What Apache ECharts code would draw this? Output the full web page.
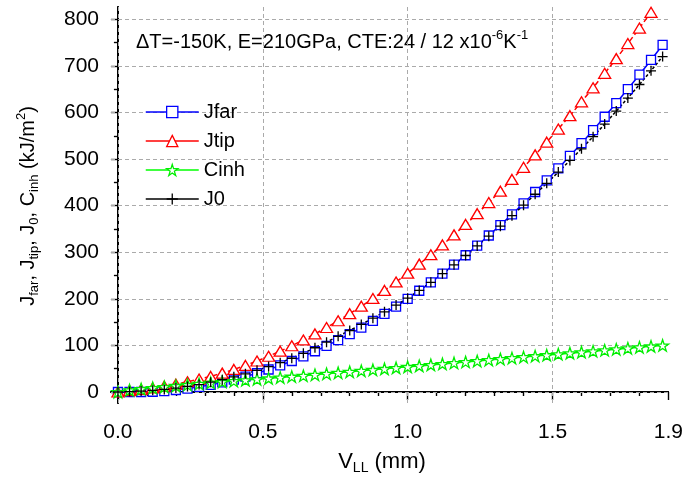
<!DOCTYPE html>
<html><head><meta charset="utf-8">
<script src="https://cdn.jsdelivr.net/npm/echarts@6/dist/echarts.min.js"></script>
<style>html,body{margin:0;padding:0;background:#fff}#c{width:686px;height:477px}</style>
</head><body><div id="c"></div>
<script>
const xValues = [0,0.04,0.08,0.12,0.16,0.2,0.24,0.28,0.32,0.36,0.4,0.44,0.48,0.52,0.56,0.6,0.64,0.68,0.72,0.76,0.8,0.84,0.88,0.92,0.96,1.0,1.04,1.08,1.12,1.16,1.2,1.24,1.28,1.32,1.36,1.4,1.44,1.48,1.52,1.56,1.6,1.64,1.68,1.72,1.76,1.8,1.84,1.88];
const jfar = [0,0,0,0.5,2,4.3,7.3,11,15.5,20.6,26.5,33,40.3,48.3,57,66.5,76.6,87.5,99,111.3,124.3,138,152.5,167.6,183.4,200,217.3,235.3,254,273.4,293.5,314.4,335.9,358.2,381.2,405,429.3,454.4,480.2,506.8,534.1,562.1,590.8,620.2,650.3,681.1,712.7,745];
const jtip = [0,3,5.5,8.8,12.5,16.8,22,27.8,33.5,40.5,48.5,57,66.6,76.8,87.7,99.3,111.7,124.7,138.5,153,168.2,184.2,200.8,218.1,236.2,255,274.5,294.7,315.7,337.3,359.7,382.8,406.6,431.1,456.3,482.3,509,536.3,564.4,593.2,622.8,653,684,715.6,747.9,781.1,815];
const cinh = [0,4,6.5,8.8,11,13.2,15.4,17.6,19.8,21.7,23.6,25.5,27.4,29.3,31.2,33.1,35,37,39.2,41.3,43.4,45.5,47.6,49.7,51.8,54,56,58.2,60.3,62.4,64.5,66.6,68.7,70.8,72.9,75,77.1,79.2,81.3,83.4,85.5,87.6,89.7,91.8,93.9,96,98,100];
const j0 = [0,1,2,3.5,5.5,8.5,12,16,21,26.5,32.5,39,46.5,54.5,63,72.5,83,95,107,119.5,132,145,158.5,172,186.5,201.5,218,235.5,254,273,293,313.5,334.5,356,378.5,401,424.5,448,472,497,522,548,575,603,631,660,689.5,720];
const seriesNames = ['Jfar','Jtip','Cinh','J0'];
const xTickValues = [0,0.5,1.0,1.5,1.9];
const xTickLabels = ['0.0','0.5','1.0','1.5','1.9'];
const xGridValues = [0,0.5,1.0,1.5];
const xMinorValues = [0.1,0.2,0.3,0.4,0.6,0.7,0.8,0.9,1.1,1.2,1.3,1.4,1.6,1.7,1.8];
const yTickValues = [0,100,200,300,400,500,600,700,800];
const yTickLabels = ['0','100','200','300','400','500','600','700','800'];
const yMinorValues = [50,150,250,350,450,550,650,750];

const FONT = "'Liberation Sans', Arial, sans-serif";
const pairs = (ys) => ys.map((v, i) => [xValues[i], v]);
const STAR = 'path://M10,0L12.245,6.91L19.511,6.91L13.633,11.18L15.878,18.09L10,13.82L4.122,18.09L6.367,11.18L0.489,6.91L7.755,6.91Z';
const PLUS = 'path://M5,0L5,10M0,5L10,5';

const xMin = -0.024, xMax = 1.9, yMin = -23.6, yMax = 826.4;
const axLine = {show: true, lineStyle: {color: '#000', width: 1.5}};
function xAx(pos, vals, len, inside, labels) {
  return {type: 'value', position: pos, min: xMin, max: xMax,
    axisLine: axLine,
    axisTick: {show: true, customValues: vals, length: len, inside: inside, lineStyle: {color: '#000', width: 1.2}},
    axisLabel: labels ? {show: true, customValues: vals, margin: 19, fontSize: 21, fontFamily: FONT, color: '#000',
      formatter: (v) => { const k = xTickValues.findIndex(t => Math.abs(t - v) < 1e-6); return k >= 0 ? xTickLabels[k] : ''; }} : {show: false},
    splitLine: {show: false}};
}
function yAx(pos, vals, len, inside, labels) {
  return {type: 'value', position: pos, min: yMin, max: yMax,
    axisLine: axLine,
    axisTick: {show: true, customValues: vals, length: len, inside: inside, lineStyle: {color: '#000', width: 1.2}},
    axisLabel: labels ? {show: true, customValues: vals, margin: 12, fontSize: 21, fontFamily: FONT, color: '#000',
      formatter: (v) => { const k = yTickValues.findIndex(t => Math.abs(t - v) < 1e-6); return k >= 0 ? yTickLabels[k] : ''; }} : {show: false},
    splitLine: {show: false}};
}

const gridLines = xGridValues.map(v => ({xAxis: v})).concat(yTickValues.map(v => ({yAxis: v})));

const chart = echarts.init(document.getElementById('c'), null, {renderer: 'canvas'});
chart.setOption({
  backgroundColor: '#fff',
  animation: false,
  grid: {left: 111, right: 17, top: 7, bottom: 74, containLabel: false},
  xAxis: [
    xAx('bottom', xTickValues, 8, false, true),
    xAx('bottom', xMinorValues, 4, false, false),
    xAx('top', xTickValues, 8, true, false),
    xAx('top', xMinorValues, 4, true, false)
  ],
  yAxis: [
    yAx('left', yTickValues, 7, false, true),
    yAx('left', yMinorValues, 4, false, false),
    yAx('right', yTickValues, 7, true, false),
    yAx('right', yMinorValues, 4, true, false)
  ],
  legend: {
    orient: 'vertical', left: 145, top: 102, padding: 0, itemWidth: 53, itemHeight: 14, itemGap: 9,
    lineStyle: {type: 'solid', width: 1.5},
    itemStyle: {color: '#fff', borderWidth: 1.3},
    textStyle: {fontSize: 20, fontFamily: FONT, color: '#000', lineHeight: 20},
    data: seriesNames
  },
  series: [
    {name: 'grid', type: 'line', data: [], z: 1, silent: true,
      markLine: {silent: true, symbol: ['none', 'none'], label: {show: false}, z: 1, animation: false,
        lineStyle: {color: '#aaa', type: [4, 3], width: 1}, emphasis: {disabled: true}, data: gridLines}},
    {name: seriesNames[0], type: 'line', data: pairs(jfar), symbol: 'rect', symbolSize: 9, z: 3,
      lineStyle: {color: '#0000ff', width: 1.5}, itemStyle: {color: '#fff', borderColor: '#0000ff', borderWidth: 1.3}},
    {name: seriesNames[1], type: 'line', data: pairs(jtip), symbol: 'triangle', symbolSize: [12, 10], z: 3,
      lineStyle: {color: '#ff0000', width: 1.5, type: [5, 3]}, itemStyle: {color: '#fff', borderColor: '#ff0000', borderWidth: 1.3}},
    {name: seriesNames[2], type: 'line', data: pairs(cinh), symbol: STAR, symbolSize: 12, symbolKeepAspect: true, z: 3,
      lineStyle: {color: '#00ff00', width: 1.5}, itemStyle: {color: '#fff', borderColor: '#00ee00', borderWidth: 1.3}},
    {name: seriesNames[3], type: 'line', data: pairs(j0), symbol: PLUS, symbolSize: 10, z: 3,
      lineStyle: {color: '#000', width: 1.5, type: [3, 2]}, itemStyle: {color: 'rgba(0,0,0,0)', borderColor: '#000', borderWidth: 1.3}}
  ],
  graphic: [
    {type: 'text', left: 136, top: 29, style: {
      text: '{a|ΔT=-150K, E=210GPa, CTE:24 / 12 x10}{s|-6}{a|K}{s|-1}',
      rich: {a: {fontSize: 20, fontFamily: FONT, fill: '#000'}, s: {fontSize: 13, fontFamily: FONT, fill: '#000', padding: [0, 0, 14, 0]}}}},
    {type: 'text', x: 28, y: 206, rotation: Math.PI / 2, style: {
      text: '{a|J}{b|far}{a|, J}{b|tip}{a|, J}{b|0}{a|, C}{b|inh}{a| (kJ/m}{s|2}{a|)}',
      align: 'center', verticalAlign: 'middle',
      rich: {a: {fontSize: 20, fontFamily: FONT, fill: '#000'}, b: {fontSize: 13, fontFamily: FONT, fill: '#000', padding: [12, 0, 0, 0]},
             s: {fontSize: 13, fontFamily: FONT, fill: '#000', padding: [0, 0, 14, 0]}}}},
    {type: 'text', x: 382, y: 462, style: {
      text: '{a|V}{b|LL}{a| (mm)}', align: 'center', verticalAlign: 'middle',
      rich: {a: {fontSize: 22, fontFamily: FONT, fill: '#000'}, b: {fontSize: 14, fontFamily: FONT, fill: '#000', padding: [13, 0, 0, 0]}}}}
  ]
});
</script></body></html>
